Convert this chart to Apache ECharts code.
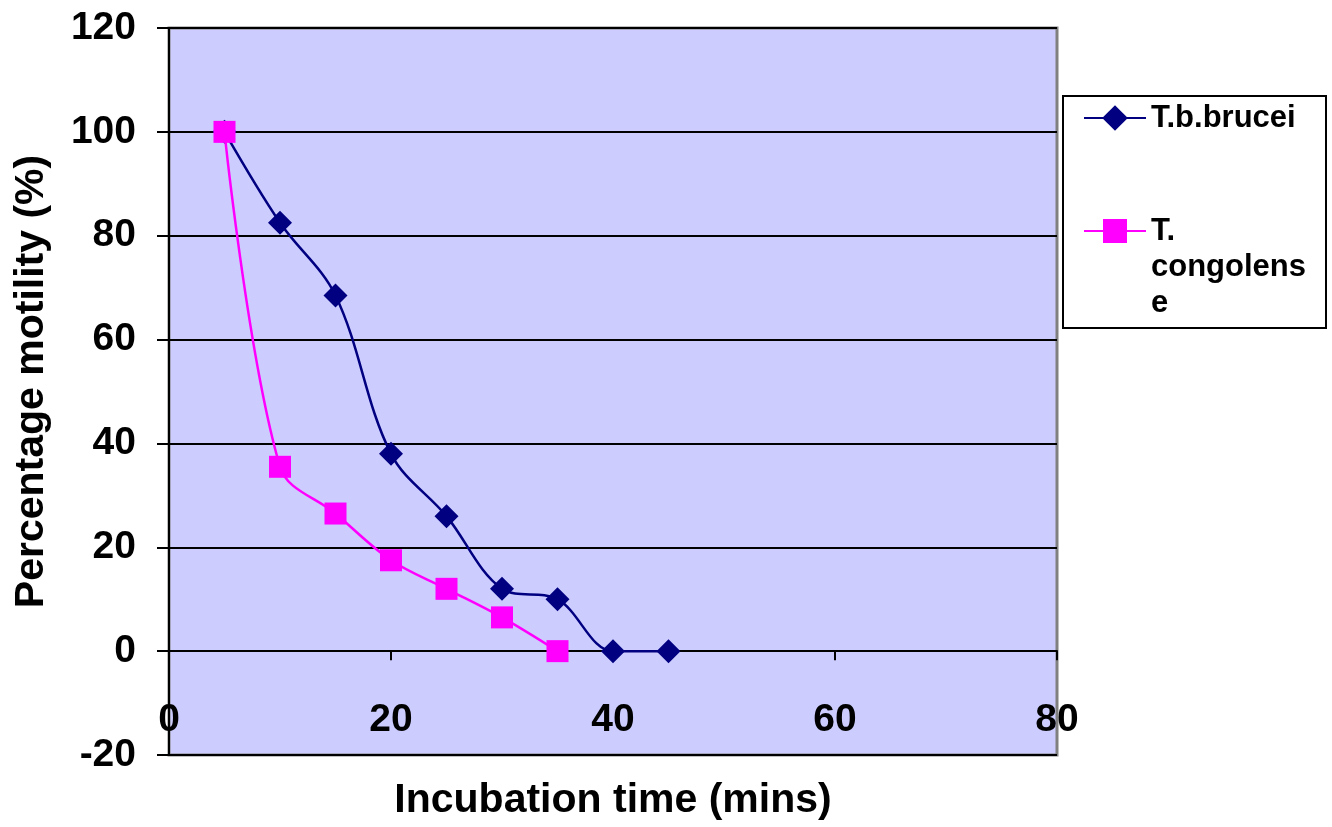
<!DOCTYPE html>
<html>
<head>
<meta charset="utf-8">
<script src="https://cdn.jsdelivr.net/npm/echarts@6/dist/echarts.min.js"></script>
<style>
html,body{margin:0;padding:0;background:#fff;}
#chart{width:1332px;height:827px;}
</style>
</head>
<body>
<div id="chart"></div>
<script>
var timeMins = [5, 10, 15, 20, 25, 30, 35, 40, 45];
var bruceiValues = [100, 82.5, 68.5, 38, 26, 12, 10, 0, 0];
var congolenseValues = [100, 35.5, 26.5, 17.5, 12, 6.5, 0];
var seriesNames = ['T.b.brucei', 'T. congolense'];
var xTitle = 'Incubation time (mins)';
var yTitle = 'Percentage motility (%)';

function pairs(xs, ys) {
  return ys.map(function (v, i) { return [xs[i], v]; });
}

var FONT = '"Liberation Sans", Arial, sans-serif';
var chart = echarts.init(document.getElementById('chart'));
chart.setOption({
  animation: false,
  backgroundColor: '#ffffff',
  grid: {
    left: 169, right: 275, top: 28, bottom: 72,
    outerBoundsMode: 'none', containLabel: false,
    show: true, backgroundColor: '#ccccff',
    borderColor: '#808080', borderWidth: 3
  },
  xAxis: {
    type: 'value', min: 0, max: 80, interval: 20,
    name: xTitle, nameLocation: 'middle', nameGap: 25,
    nameTextStyle: { fontFamily: FONT, fontWeight: 'bold', fontSize: 41, color: '#000' },
    axisLine: { show: true, onZero: true, lineStyle: { color: '#000', width: 2 } },
    axisTick: { show: true, length: 9, lineStyle: { color: '#000', width: 2 } },
    axisLabel: { margin: -54, fontFamily: FONT, fontWeight: 'bold', fontSize: 39, color: '#000' },
    splitLine: { show: false }
  },
  yAxis: {
    type: 'value', min: -20, max: 120, interval: 20,
    name: yTitle, nameLocation: 'middle', nameGap: 117,
    nameTextStyle: { fontFamily: FONT, fontWeight: 'bold', fontSize: 41, color: '#000', padding: [0, 0, 0, 20] },
    axisLine: { show: true, lineStyle: { color: '#000', width: 2 } },
    axisTick: { show: true, length: 12, lineStyle: { color: '#000', width: 2 } },
    axisLabel: { margin: 33, fontFamily: FONT, fontWeight: 'bold', fontSize: 39, color: '#000' },
    splitLine: { show: true, lineStyle: { color: '#000', width: 2 } }
  },
  legend: [{
    data: [seriesNames[0]],
    left: 1078, top: 95,
    itemWidth: 62, itemHeight: 32,
    textStyle: { fontFamily: FONT, fontWeight: 'bold', fontSize: 31, color: '#000', lineHeight: 36 }
  }, {
    data: [seriesNames[1]],
    left: 1078, top: 136,
    itemWidth: 62, itemHeight: 30,
    formatter: function () { return '\n\nT.\ncongolens\ne'; },
    textStyle: { fontFamily: FONT, fontWeight: 'bold', fontSize: 31, color: '#000', lineHeight: 36 }
  }],
  graphic: [{
    type: 'rect', shape: { x: 1063, y: 96, width: 263, height: 232 },
    style: { fill: 'none', stroke: '#000', lineWidth: 2 }, silent: true
  }],
  series: [{
    name: seriesNames[0], type: 'line', smooth: 0.35,
    data: pairs(timeMins, bruceiValues),
    symbol: 'diamond', symbolSize: 24,
    itemStyle: { color: '#000080' },
    lineStyle: { color: '#000080', width: 2.5 },
    z: 3
  }, {
    name: seriesNames[1], type: 'line', smooth: 0.35,
    data: pairs(timeMins, congolenseValues),
    symbol: 'rect', symbolSize: 22,
    itemStyle: { color: '#ff00ff' },
    lineStyle: { color: '#ff00ff', width: 2.5 },
    z: 4
  }]
});
</script>
</body>
</html>
